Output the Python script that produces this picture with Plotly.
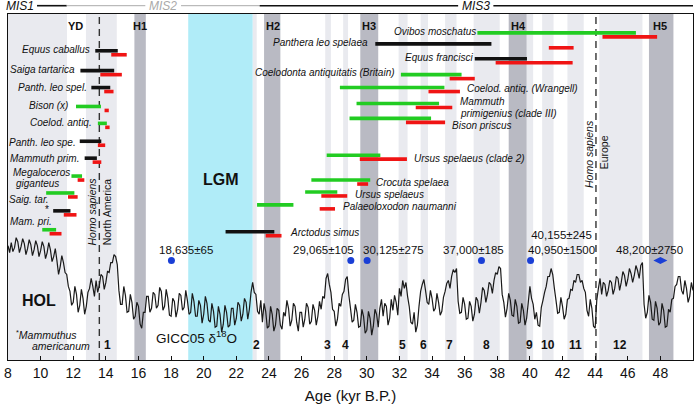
import plotly.graph_objects as go

# ---------------- DATA ----------------
# GICC05 delta18O (permil), read every 0.1 kyr from 8.0 to 50.0 kyr B.P.
d18o = [
    -34.9, -35.6, -34.6, -35.5, -35.1, -34.1, -34.5, -35.6, -35.0, -34.2,   # 8
    -34.7, -35.8, -35.2, -34.3, -34.8, -35.9, -35.3, -34.4, -34.9, -36.0,   # 9
    -35.4, -34.5, -35.0, -36.2, -35.6, -34.6, -35.3, -36.5, -36.0, -35.2,   # 10
    -36.4, -37.8, -37.0, -35.9, -36.6, -37.6, -37.8, -39.0, -39.5, -40.9,   # 11
    -40.6, -39.0, -39.8, -41.6, -40.9, -39.3, -40.2, -41.8, -41.0, -39.6,   # 12
    -39.2, -38.2, -39.0, -40.0, -38.4, -39.6, -38.9, -37.8, -38.0, -39.3,   # 13
    -38.6, -37.5, -37.6, -36.6, -36.6, -35.8, -36.0, -36.8, -39.4, -40.8,   # 14
    -40.8, -39.0, -39.9, -41.6, -41.5, -39.8, -40.6, -42.3, -42.0, -40.6,   # 15
    -41.0, -42.8, -43.2, -41.6, -41.6, -40.0, -40.0, -41.6, -41.2, -39.6,   # 16
    -39.8, -41.2, -40.9, -39.1, -39.5, -41.4, -41.0, -39.3, -40.2, -41.9,   # 17
    -42.0, -40.2, -40.5, -42.1, -41.3, -39.7, -39.9, -41.4, -41.1, -39.4,   # 18
    -40.4, -41.8, -41.6, -39.7, -40.5, -42.0, -42.0, -40.4, -40.9, -42.7,   # 19
    -41.8, -40.0, -40.7, -42.4, -42.6, -40.7, -41.5, -43.1, -43.0, -41.0,   # 20
    -41.8, -43.6, -42.8, -40.9, -41.6, -43.1, -42.9, -41.2, -41.2, -42.9,   # 21
    -42.2, -40.6, -40.9, -42.5, -41.8, -40.2, -40.6, -42.3, -41.3, -39.6,   # 22
    -38.6, -39.6, -39.8, -41.5, -41.8, -40.4, -42.6, -40.7, -41.5, -43.2,   # 23
    -43.0, -41.0, -41.8, -43.5, -42.9, -41.2, -41.4, -42.9, -43.3, -41.6,   # 24
    -42.0, -40.4, -41.2, -43.0, -42.4, -40.7, -41.0, -42.6, -43.5, -41.6,   # 25
    -41.6, -43.1, -42.3, -40.7, -41.1, -42.8, -42.5, -40.8, -41.4, -42.9,   # 26
    -42.0, -40.5, -41.3, -40.0, -40.2, -38.2, -37.7, -38.8, -39.6, -41.3,   # 27
    -41.5, -43.0, -42.3, -40.7, -41.0, -39.8, -39.5, -38.3, -38.0, -39.9,   # 28
    -41.2, -42.6, -42.4, -40.8, -41.6, -43.1, -43.0, -41.3, -42.0, -43.7,   # 29
    -43.4, -41.5, -42.2, -43.9, -43.0, -41.3, -41.8, -43.1, -41.2, -40.3,   # 30
    -42.0, -40.7, -41.0, -42.9, -42.2, -40.3, -41.4, -39.9, -40.6, -41.9,   # 31
    -39.2, -40.0, -38.4, -39.2, -38.6, -40.0, -41.0, -42.6, -42.8, -41.6,   # 32
    -43.6, -42.9, -41.0, -39.5, -38.8, -38.3, -39.4, -40.6, -40.8, -39.4,   # 33
    -40.2, -41.5, -41.2, -39.7, -40.6, -41.9, -41.5, -40.1, -39.5, -38.7,   # 34
    -38.4, -39.2, -38.0, -37.3, -37.6, -37.2, -40.5, -41.7, -41.6, -40.1,   # 35
    -40.8, -42.3, -42.2, -40.5, -41.0, -42.5, -41.8, -40.1, -40.4, -41.7,   # 36
    -40.6, -39.1, -39.4, -40.6, -39.8, -38.6, -38.8, -39.7, -38.4, -37.6,   # 37
    -37.8, -37.0, -37.2, -39.8, -40.6, -42.1, -41.2, -39.7, -40.4, -41.9,   # 38
    -42.0, -40.3, -41.0, -42.7, -42.6, -40.7, -41.4, -42.9, -42.2, -40.6,   # 39
    -39.0, -40.2, -40.8, -42.3, -41.6, -42.9, -43.0, -41.1, -40.4, -39.6,   # 40
    -39.0, -38.0, -38.0, -37.2, -37.8, -39.2, -40.4, -41.7, -41.6, -40.1,   # 41
    -41.0, -42.3, -41.8, -40.3, -40.2, -39.3, -39.4, -38.4, -38.6, -37.8,   # 42
    -37.8, -38.6, -38.4, -39.2, -39.6, -41.4, -42.0, -40.3, -41.2, -43.0,   # 43
    -43.2, -40.4, -39.2, -38.2, -39.8, -38.6, -38.8, -40.0, -39.4, -38.4,   # 44
    -38.6, -39.8, -39.2, -38.0, -38.2, -39.4, -38.6, -37.5, -37.9, -39.0,   # 45
    -38.3, -37.2, -37.7, -38.6, -37.9, -36.9, -37.4, -38.2, -36.9, -36.6,   # 46
    -40.8, -42.2, -41.6, -39.9, -40.6, -42.3, -42.4, -40.5, -41.2, -42.9,   # 47
    -42.6, -40.7, -41.4, -43.1, -43.0, -41.3, -41.6, -40.3, -40.2, -39.0,   # 48
    -38.8, -38.0, -38.0, -39.4, -39.8, -38.4, -39.2, -40.6, -40.0, -38.6,   # 49
    -39.4,                                                                  # 50
]
age_step = 0.1
age_start = 8.0
ages = [round(age_start + age_step * i, 2) for i in range(len(d18o))]

# Species last-appearance ranges (kyr B.P.)
species = ["Equus caballus", "Saiga tartarica", "Panth. leo spel.", "Bison (x)",
           "Coelod. antiq.", "Panth. leo spe.", "Mammuth prim.", "Megaloceros giganteus",
           "Saig. tar.", "*", "Mam. pri.", "Ovibos moschatus", "Panthera leo spelaea",
           "Equus francisci", "Coelodonta antiquitatis (Britain)",
           "Coelod. antiq. (Wrangell)", "Mammuth primigenius (clade III)", "Bison priscus",
           "Ursus spelaeus (clade 2)", "Crocuta spelaea", "Ursus spelaeus",
           "Palaeoloxodon naumanni", "Arctodus simus"]
bar_kind = ["black", "black", "black", "green", "green", "black", "black", "green",
            "green", "black", "green", "green", "black", "black", "green", "green",
            "green", "green", "green", "green", "green", "green", "black"]
bar_start = [13.35, 12.44, 13.11, 12.17, 13.51, 12.40, 12.70, 11.89, 10.34, 10.77, 10.10,
             36.78, 30.52, 36.62, 32.09, 28.35, 29.37, 28.94, 27.54, 26.60, 26.22, 23.27, 21.34]
bar_end = [14.73, 14.51, 14.27, 13.70, 14.06, 13.72, 13.45, 12.54, 12.07, 11.83, 10.95,
           46.50, 37.64, 39.82, 35.81, 34.76, 34.43, 33.94, 30.83, 30.21, 28.19, 25.50, 24.33]
red_start = [14.33, 13.66, 13.90, 13.92, 13.96, 13.51, 13.19, 12.27, 11.68, 11.42, 10.55,
             44.45, 41.16, 37.90, 35.08, 33.78, 33.00, 32.40, 29.57, 29.41, 27.21, 27.11, 23.80]
red_end = [15.28, 14.98, 14.47, 14.18, 14.23, 13.96, 13.72, 12.68, 12.27, 12.20, 11.28,
           47.80, 42.68, 42.62, 36.62, 35.71, 35.24, 34.80, 32.46, 30.08, 28.80, 28.05, 24.77]

# Radiocarbon dates (kyr B.P.)
date_age = [18.02, 29.02, 30.02, 37.03, 40.04, 48.0]
date_text = ["18,635±65", "29,065±105", "30,125±275", "37,000±185",
             "40,155±245<br>40,950±1500", "48,200±2750"]

# Climate intervals (kyr B.P.)
light_bands = [(8.0, 11.62), (12.78, 14.67), (23.0, 23.25), (27.45, 27.8), (28.55, 28.85),
               (31.95, 32.5), (33.3, 33.75), (34.8, 35.5), (36.55, 38.15), (39.8, 40.2),
               (40.75, 41.45), (42.3, 43.3), (44.25, 46.9)]
heinrich_bands = [(15.75, 16.45), (23.7, 24.7), (29.6, 30.7), (38.7, 39.8), (47.3, 48.8)]
heinrich_labels = ["YD", "H1", "H2", "H3", "H4", "H5"]
lgm_band = (19.05, 23.0)
arrival_age = [13.6, 44.05]
interstadials = ["1", "2", "3", "4", "5", "6", "7", "8", "9", "10", "11", "12"]
x_ticks = list(range(8, 51, 2))

# ---------------- LAYOUT POSITIONS ----------------
row_y = [51, 71, 88, 107, 124, 142, 159, 177, 194, 212, 231,
         33, 44, 59, 75, 88, 104, 119, 156, 181, 193, 206, 233]
red_dy = 4
label_x = [13.13, 12.21, 12.95, 11.79, 13.25, 12.27, 12.46, None, 10.63, 10.38, 10.81,
           31.54, 30.20, 32.21, 31.85, 35.99, 35.57, 35.08, 32.76, 30.44, 29.16, 28.43, 25.14]
label_anchor = ["right"] * 11 + ["left", "right", "left", "right", "left", "left", "left",
                                 "left", "left", "left", "left", "left"]
label_y = [50, 70, 88, 106, 123, 143, 159, None, 201, 212, 223,
           32, 43, 58, 73, 89, None, 126, 159, 183, 196, 208, 234]
date_label_x = [18.92, 27.32, 31.66, 36.52, 39.78, 47.32]
date_label_anchor = ["center", "center", "center", "center", "left", "center"]
date_label_y = [251, 251, 251, 251, 244, 251]
heinrich_label_x = [12.15, 16.12, 24.22, 30.14, 39.29, 48.0]
inter_x = [14.10, 23.25, 27.58, 28.68, 32.21, 33.49, 35.08, 37.33, 39.95, 41.11, 42.82, 45.5]

GREEN = "#22cc22"
RED = "#f01414"
BLACK = "#111111"
FONT = "Liberation Sans, Arial, sans-serif"

fig = go.Figure()

shapes = []
for a, b in light_bands:
    shapes.append(dict(type="rect", xref="x", yref="paper", x0=a, x1=b, y0=0, y1=1,
                       fillcolor="#e9eaef", line_width=0, layer="below"))
for a, b in heinrich_bands:
    shapes.append(dict(type="rect", xref="x", yref="paper", x0=a, x1=b, y0=0, y1=1,
                       fillcolor="#b9bac3", line_width=0, layer="below"))
shapes.append(dict(type="rect", xref="x", yref="paper", x0=lgm_band[0], x1=lgm_band[1],
                   y0=0, y1=1, fillcolor="#b0ecf8", line_width=0, layer="below"))
for a in arrival_age:
    shapes.append(dict(type="line", xref="x", yref="paper", x0=a, x1=a, y0=0, y1=1,
                       line=dict(color="#333333", width=1.4, dash="7px,5px"), layer="below"))

# MIS strip
mis_y = 1.024
mis_segments = [(9.78, 11.6, BLACK, 1.6), (11.6, 16.42, "#aaaaaa", 1),
                (18.61, 23.43, "#aaaaaa", 1), (23.43, 35.6, BLACK, 1.6), (37.76, 50.0, BLACK, 1.6)]
for a, b, c, w in mis_segments:
    shapes.append(dict(type="line", xref="x", yref="paper", x0=a, x1=b, y0=mis_y, y1=mis_y,
                       line=dict(color=c, width=w)))

# curve
fig.add_trace(go.Scatter(x=ages, y=d18o, mode="lines", yaxis="y2",
                         line=dict(color="#1a1a1a", width=1.2, simplify=False),
                         hoverinfo="skip"))

def seg_trace(starts, ends, ys, color):
    xs, yy = [], []
    for s, e, y in zip(starts, ends, ys):
        xs += [s, e, None]
        yy += [y, y, None]
    return go.Scatter(x=xs, y=yy, mode="lines", line=dict(color=color, width=3.6),
                      hoverinfo="skip")

for kind, col in (("black", BLACK), ("green", GREEN)):
    idx = [i for i, k in enumerate(bar_kind) if k == kind]
    fig.add_trace(seg_trace([bar_start[i] for i in idx], [bar_end[i] for i in idx],
                            [row_y[i] for i in idx], col))
fig.add_trace(seg_trace(red_start, red_end, [y + red_dy for y in row_y], RED))

fig.add_trace(go.Scatter(x=date_age[:-1], y=[262] * (len(date_age) - 1), mode="markers",
                         marker=dict(color="#1a3fd6", size=7), hoverinfo="skip"))
fig.add_trace(go.Scatter(x=date_age[-1:], y=[262], mode="markers",
                         marker=dict(color="#1a3fd6", size=10, symbol="diamond-wide"),
                         hoverinfo="skip"))

ann = []
def A(x, y, text, size=10, anchor="center", color=BLACK, angle=0, yref="y"):
    ann.append(dict(x=x, y=y, xref="x", yref=yref, text=text, showarrow=False,
                    xanchor=anchor, yanchor="middle", textangle=angle,
                    font=dict(family=FONT, size=size, color=color)))

for i, name in enumerate(species):
    if name == "Megaloceros giganteus":
        A(8.19, 173, "<i>Megaloceros</i>", anchor="left")
        A(8.34, 184, "<i>giganteus</i>", anchor="left")
    elif name.startswith("Mammuth primigenius"):
        A(35.57, 102, "<i>Mammuth</i>", anchor="left")
        A(35.57, 114, "<i>primigenius (clade III)</i>", anchor="left")
    elif name == "*":
        A(label_x[i], label_y[i] - 1, "*", anchor="center")
    else:
        A(label_x[i], label_y[i], "<i>" + name + "</i>", anchor=label_anchor[i])

for x, y, t, an in zip(date_label_x, date_label_y, date_text, date_label_anchor):
    A(x, y, t, size=11.5, anchor=an)

for x, t in zip(heinrich_label_x, heinrich_labels):
    A(x, 26, "<b>" + t + "</b>", size=11)
for x, t in zip(inter_x, interstadials):
    A(x, 347, "<b>" + t + "</b>", size=12)

A(21.05, 180, "<b>LGM</b>", size=16)
A(9.9, 302, "<b>HOL</b>", size=16)
A(19.53, 339, "GICC05 δ<sup>18</sup>O", size=13.5)
A(8.37, 336, "<sup>*</sup><i>Mammuthus</i>", size=10.5, anchor="left")
A(9.35, 348, "<i>americanum</i>", size=10.5, anchor="left")
A(13.13, 213, "<i>Homo sapiens</i>", size=10.5, angle=-90)
A(14.04, 213, "North America", size=10.5, angle=-90)
A(43.61, 155, "<i>Homo sapiens</i>", size=10.5, angle=-90)
A(44.55, 153, "Europe", size=10.5, angle=-90)

A(8.74, mis_y, "<i>MIS1</i>", size=12, yref="paper")
A(17.52, mis_y, "<i>MIS2</i>", size=12, color="#aaaaaa", yref="paper")
A(36.72, mis_y, "<i>MIS3</i>", size=12, yref="paper")

fig.update_layout(
    width=700, height=405, margin=dict(l=4, r=7, t=14, b=43),
    paper_bgcolor="white", plot_bgcolor="white", showlegend=False,
    shapes=shapes, annotations=ann,
    font=dict(family=FONT, color=BLACK),
    xaxis=dict(range=[8, 50], tickvals=x_ticks, ticktext=[str(t) for t in x_ticks],
               ticks="inside", ticklen=4, tickcolor=BLACK, showgrid=False, zeroline=False,
               showline=True, linecolor=BLACK, linewidth=1.3, mirror=True,
               tickfont=dict(size=14, family=FONT),
               title=dict(text="Age (kyr B.P.)", font=dict(size=15, family=FONT), standoff=10)),
    yaxis=dict(range=[362, 14], showticklabels=False, ticks="", showgrid=False,
               zeroline=False, showline=True, linecolor=BLACK, linewidth=1.3, mirror=True),
    yaxis2=dict(range=[-46.4, -11.6], overlaying="y", visible=False),
)

fig.write_html("out.html")
